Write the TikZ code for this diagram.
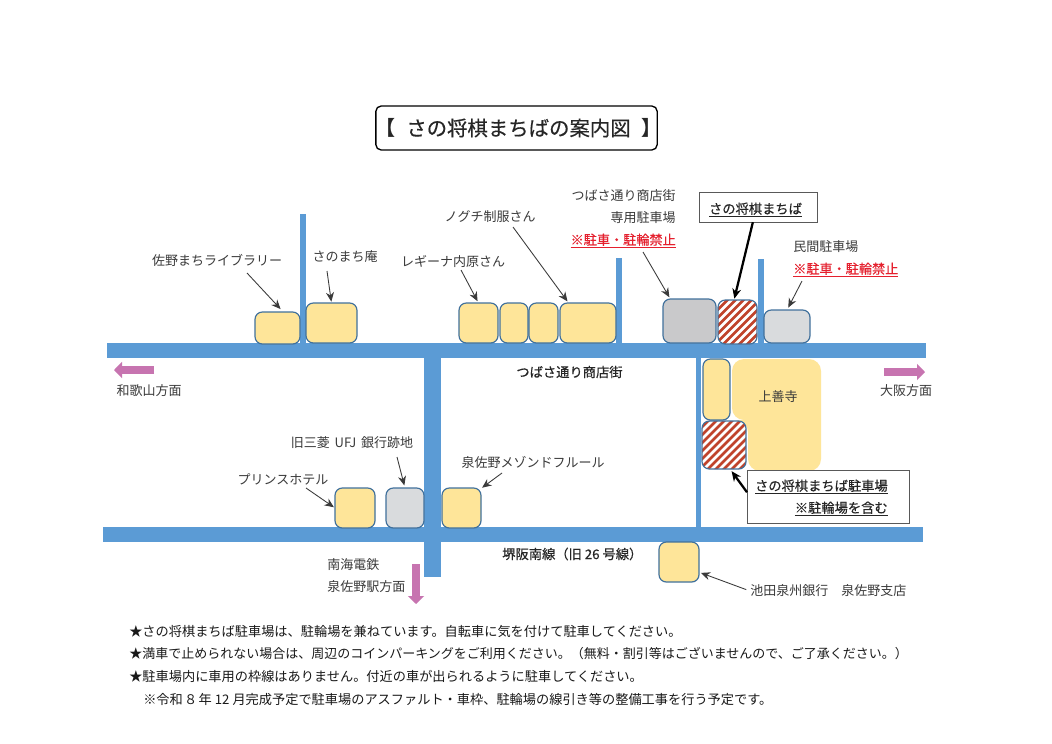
\documentclass[tikz,border=0pt]{standalone}
\usepackage{fontspec}
\setmainfont{Noto Sans CJK JP}
\newfontfamily\heavier[FakeBold=0.45]{Noto Sans CJK JP}
\usetikzlibrary{arrows.meta,calc}
\definecolor{road}{HTML}{5B9BD5}
\definecolor{boxline}{HTML}{41719C}
\definecolor{bldg}{HTML}{FEE599}
\definecolor{grayA}{HTML}{C9C9CB}
\definecolor{grayB}{HTML}{D9DBDD}
\definecolor{pinkarrow}{HTML}{C774B0}
\definecolor{hatchred}{HTML}{C0432B}
\definecolor{warnred}{HTML}{E5202E}
\definecolor{ink}{HTML}{3A3A3A}
\newcommand{\mybox}[7][]{%
  \node[#7,minimum width=(#4-#2)*0.75pt,minimum height=(#5-#3)*0.75pt,#1] (#6) at ({(#2+#4)/2},{(#3+#5)/2}) {};}
\newcommand{\myroad}[4]{\fill[road] (#1,#2) rectangle (#3,#4);}
\tikzset{
  x=0.75pt,y=-0.75pt,
  house/.style={draw=boxline,line width=0.9pt,rounded corners=5.5pt,inner sep=0pt,outer sep=0pt},
  yellowbox/.style={house,fill=bldg},
  grayboxa/.style={house,fill=grayA},
  grayboxb/.style={house,fill=grayB},
  hatchbox/.style={house,fill=white,path picture={
    \foreach \i in {-64,-56,...,64}{
      \draw[hatchred,line width=1.9pt] ($(path picture bounding box.center)+(\i-40,40)$) -- ++(80,-80);}}},
  label/.style={inner sep=0pt,text=ink,font=\fontsize{9.75pt}{11pt}\selectfont},
  boldlabel/.style={inner sep=0pt,text=black!85,font=\fontsize{9.95pt}{11pt}\heavier},
  warnlabel/.style={inner sep=0pt,text=warnred,font=\fontsize{9.85pt}{11pt}\heavier},
  noteline/.style={inner sep=0pt,anchor=west,text=black!90,font=\fontsize{9.9pt}{11pt}\selectfont},
  frame/.style={draw=black!65,line width=0.75pt,fill=white,inner sep=0pt,outer sep=0pt},
  pointer/.style={draw=ink,line width=0.65pt,-{Stealth[length=7pt,width=6pt]}},
  heavypointer/.style={draw=black,line width=1.7pt,-{Stealth[length=7.5pt,width=6.5pt]}},
  direction/.style={draw=pinkarrow,line width=5.4pt,-{Triangle[length=6pt,width=12pt]}},
}
\begin{document}
\begin{tikzpicture}
\useasboundingbox (0,0) rectangle (1052,743);
\fill[white] (0,0) rectangle (1052,743);
% roads
\myroad{300}{214}{306}{344}
\myroad{616}{258}{622}{344}
\myroad{758}{259}{764}{344}
\myroad{696}{358}{701}{528}
\myroad{424}{358}{441}{577}
\myroad{107}{343}{926}{358}
\myroad{103}{527}{923}{542}
% title
\node[draw=black,line width=1pt,rounded corners=4pt,minimum width=211pt,minimum height=33pt,inner sep=0pt] (title) at (516.5,128) {};
\node[inner sep=0pt,text=black!85,font=\fontsize{15.3pt}{18pt}\heavier] (titletext) at (518.5,128) {さの将棋まちばの案内図};
\node[inner sep=0pt,text=black!85,font=\fontsize{15pt}{18pt}\bfseries,anchor=center] (titlel) at (385,128) {【};
\node[inner sep=0pt,text=black!85,font=\fontsize{15pt}{18pt}\bfseries,anchor=center] (titler) at (651,128) {】};
% temple
\fill[bldg,rounded corners=9pt] (732,420) -- (732,359) -- (821,359) -- (821,471) -- (748,471) -- (748,420) -- cycle;
\node[label] (templelabel) at (778,397) {上善寺};
% buildings
\mybox{255}{312}{300}{344}{blib}{yellowbox}
\mybox{306}{303}{357}{343}{ban}{yellowbox}
\mybox{459}{303}{498}{343}{breg}{yellowbox}
\mybox{500}{303}{528}{343}{bmida}{yellowbox}
\mybox{529}{303}{558}{343}{bmidb}{yellowbox}
\mybox{560}{303}{616}{343}{bnog}{yellowbox}
\mybox{663}{299}{716}{343}{bpark}{grayboxa}
\mybox{718}{300}{757}{344}{bshogi}{hatchbox}
\mybox{764}{310}{810}{343}{bmin}{grayboxb}
\mybox{703}{359}{730}{420}{bside}{yellowbox}
\mybox{702}{421}{746}{469}{blot}{hatchbox}
\mybox{659}{542}{699}{582}{bike}{yellowbox}
\mybox{335}{488}{375}{528}{bpri}{yellowbox}
\mybox{386}{488}{424}{528}{bufj}{grayboxb}
\mybox{442}{488}{481}{528}{bmai}{yellowbox}
% labels
\node[label] (llib) at (217,260) {佐野まちライブラリー};
\node[label] (lan) at (345,257) {さのまち庵};
\node[label] (lreg) at (453,261) {レギーナ内原さん};
\node[label] (lnog) at (490,217) {ノグチ制服さん};
\node[label,anchor=east] (lparka) at (676,196) {つばさ通り商店街};
\node[label,anchor=east] (lparkb) at (676,218) {専用駐車場};
\node[warnlabel,anchor=east] (lparkc) at (676,241) {\underline{※駐車・駐輪禁止}};
\node[label,anchor=west] (lmina) at (793,247) {民間駐車場};
\node[warnlabel,anchor=west] (lminb) at (793,270) {\underline{※駐車・駐輪禁止}};
\node[frame,minimum width=89pt,minimum height=22pt] (banner) at (758.5,207.5) {};
\node[boldlabel] (bannertext) at (755.5,210) {\underline{さの将棋まちば}};
\node[boldlabel] (lstreet) at (569.5,372) {つばさ通り商店街};
\node[label] (lwak) at (149,391) {和歌山方面};
\node[label] (losa) at (906,391) {大阪方面};
\node[label] (lufj) at (352,443) {旧三菱\hspace{1.5pt} UFJ\hspace{1.5pt} 銀行跡地};
\node[label] (lpri) at (283,479) {プリンスホテル};
\node[label] (lmai) at (533,462) {泉佐野メゾンドフルール};
\node[boldlabel,anchor=west] (lsak) at (502,554) {堺阪南線（旧 26 号線）};
\node[label,anchor=west] (lnana) at (327,565) {南海電鉄};
\node[label,anchor=west] (lnanb) at (327,587) {泉佐野駅方面};
\node[label,anchor=west] (like) at (750,591) {池田泉州銀行　泉佐野支店};
\node[frame,minimum width=121.5pt,minimum height=39.75pt] (lotbox) at (828,496.5) {};
\node[boldlabel,anchor=east] (lota) at (888,487) {\underline{さの将棋まちば駐車場}};
\node[boldlabel,anchor=east] (lotb) at (888,509) {\underline{※駐輪場を含む}};
% notes
\node[noteline] (na) at (129,631) {★さの将棋まちば駐車場は、駐輪場を兼ねています。自転車に気を付けて駐車してください。};
\node[noteline,font=\fontsize{9.75pt}{11pt}\selectfont] (nb) at (129,654) {★満車で止められない場合は、周辺のコインパーキングをご利用ください。（無料・割引等はございませんので、ご了承ください。）};
\node[noteline] (nc) at (129,676) {★駐車場内に車用の枠線はありません。付近の車が出られるように駐車してください。};
\node[noteline] (nd) at (143,699) {※令和\hspace{1pt}８\hspace{1pt}年 12 月完成予定で駐車場のアスファルト・車枠、駐輪場の線引き等の整備工事を行う予定です。};
% free ends
\coordinate (slib) at (247,273);
\coordinate (san) at (327,271);
\coordinate (sreg) at (461,270);
\coordinate (snog) at (513,227);
\coordinate (spark) at (643,252);
\coordinate (smin) at (802,281);
\coordinate (spri) at (306,488);
\coordinate (sufj) at (397,457);
\coordinate (smai) at (502,473);
\coordinate (wests) at (154,370);
\coordinate (westt) at (114,370);
\coordinate (easts) at (884,372);
\coordinate (eastt) at (925,372);
\coordinate (souths) at (416,564);
\coordinate (southt) at (416,604);
% connectors
\draw[pointer,shorten >=3pt] (slib) -- (blib.70);
\draw[pointer,shorten >=1pt] (san) -- (ban.north);
\draw[pointer,shorten >=1.5pt] (sreg) -- (breg.north);
\draw[pointer,shorten >=1.5pt] (snog) -- (bnog.134);
\draw[pointer,shorten >=1.5pt] (spark) -- (bpark.131);
\draw[pointer,shorten >=2pt] (smin) -- (bmin.north);
\draw[pointer,shorten >=1pt] (spri) -- (bpri.west);
\draw[pointer,shorten >=2pt] (sufj) -- (bufj.north);
\draw[pointer,shorten >=1pt] (smai) -- (bmai.45);
\draw[pointer,shorten <=3pt,shorten >=1.5pt] (like.west) -- (bike.-27);
\draw[heavypointer,shorten >=1pt] (banner.-111) -- (bshogi.99);
\draw[heavypointer,shorten >=2pt] (lotbox.177) -- (blot.-76);
\draw[direction] (wests) -- (westt);
\draw[direction] (easts) -- (eastt);
\draw[direction] (souths) -- (southt);
\end{tikzpicture}
\end{document}
